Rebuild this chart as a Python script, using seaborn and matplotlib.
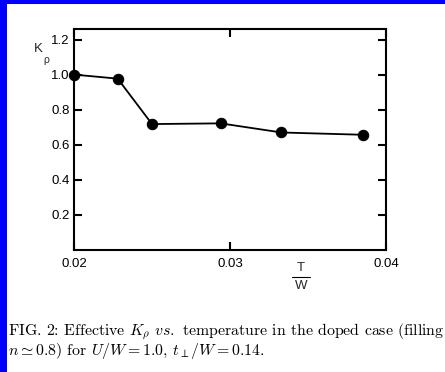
import matplotlib
matplotlib.use("Agg")
import matplotlib.pyplot as plt
from matplotlib.lines import Line2D
from matplotlib.patches import Rectangle
import seaborn as sns
import pandas as pd

# Effective K_rho versus temperature T/W (doped case)
temperature = [0.0200, 0.0228, 0.0250, 0.0294, 0.0333, 0.0385]
k_rho = [1.00, 0.977, 0.718, 0.722, 0.670, 0.657]
x_ticks = [0.02, 0.03, 0.04]
y_ticks = [0.2, 0.4, 0.6, 0.8, 1.0, 1.2]

sns.set_style("ticks")
plt.rcParams["font.family"] = ["Liberation Sans", "DejaVu Sans"]

W, H = 445, 372
fig = plt.figure(figsize=(W / 100, H / 100), dpi=100)
fig.patch.set_facecolor("#0000ff")
# white page area
fig.patches.append(Rectangle((7 / W, 0), 1, 1 - 4 / H, transform=fig.transFigure,
                             facecolor="white", edgecolor="none", zorder=-1))

ax = fig.add_axes([74 / W, 1 - 250 / H, (386 - 74) / W, (250 - 29) / H])
ax.set_facecolor("white")

df = pd.DataFrame({"T": temperature, "K": k_rho})
sns.lineplot(data=df, x="T", y="K", ax=ax, color="black", linewidth=1.3,
             marker="o", markersize=7.5, markeredgecolor="black",
             markerfacecolor="black", clip_on=False, zorder=5)

ax.set_xlim(0.02, 0.04)
ax.set_ylim(0, 1.26)
ax.set_xticks(x_ticks)
ax.set_xticklabels(["0.02", "0.03", "0.04"])
ax.set_yticks(y_ticks)
ax.set_yticklabels(["0.2", "0.4", "0.6", "0.8", "1.0", "1.2"])
ax.set_xlabel("")
ax.set_ylabel("")

for s in ax.spines.values():
    s.set_visible(True)
    s.set_linewidth(1.5)
    s.set_color("black")
ax.tick_params(axis="both", direction="in", length=5.5, width=1.5,
               labelsize=9.5, colors="black", top=True, right=True)
ax.tick_params(axis="x", pad=6)
ax.tick_params(axis="y", pad=3)

# y-axis label K_rho
fig.text(38 / W, 1 - 49 / H, "K", fontsize=9.5, ha="center", va="center")
fig.text(46 / W, 1 - 60 / H, "ρ", fontsize=7.5, ha="center", va="center")

# x-axis label T / W as a stacked fraction
fig.text(301 / W, 1 - 268 / H, "T", fontsize=9.5, ha="center", va="center")
fig.text(301 / W, 1 - 286 / H, "W", fontsize=9.5, ha="center", va="center")
fig.lines.append(Line2D([292 / W, 310 / W], [1 - 277 / H, 1 - 277 / H],
                        transform=fig.transFigure, color="black", linewidth=0.8))

# caption
cap_kw = dict(fontsize=11.4, family="cmr10", math_fontfamily="cm",
              ha="left", va="baseline", color="black")
fig.text(8 / W, 1 - 335 / H,
         r"FIG. 2: Effective $K_\rho$ $vs.$ temperature in the doped case (filling",
         **cap_kw)
fig.text(8 / W, 1 - 355 / H,
         r"$n\simeq 0.8$) for $U/W=1.0$, $t_\perp/W=0.14$.", **cap_kw)

fig.savefig("out.png", dpi=100, facecolor=fig.get_facecolor())
